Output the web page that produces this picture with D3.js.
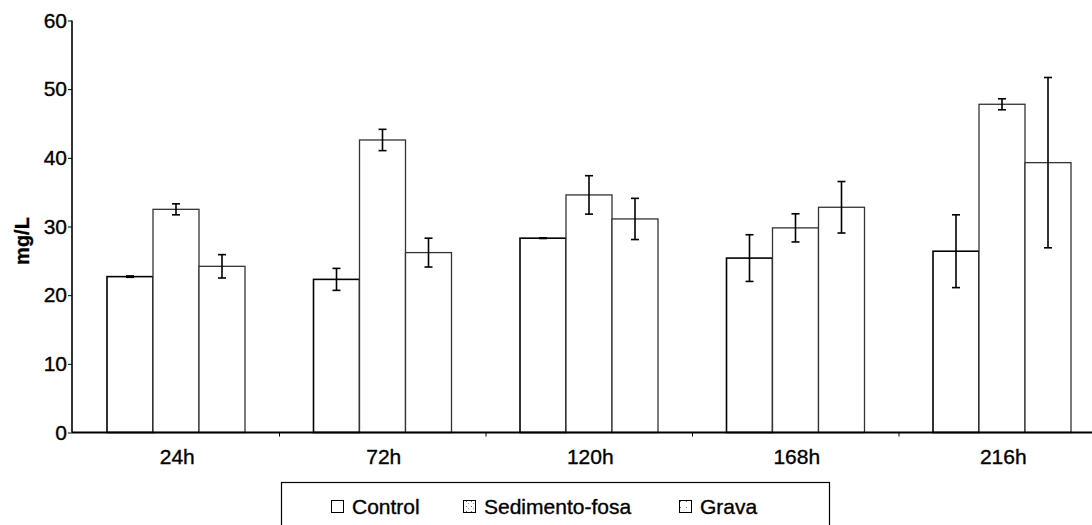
<!DOCTYPE html>
<html><head><meta charset="utf-8">
<script src="https://cdn.jsdelivr.net/npm/d3@7"></script>
<style>
html,body{margin:0;padding:0;background:#fff;}
svg{display:block;font-family:"Liberation Sans",Arial,sans-serif;}
svg text{stroke:#000;stroke-width:0.35px;}
</style></head>
<body><svg id="chart" width="1092" height="525"></svg>
<script>
const categories = ["24h","72h","120h","168h","216h"];
const seriesNames = ["Control","Sedimento-fosa","Grava"];
const controlMean = [22.7, 22.3, 28.3, 25.4, 26.4];
const controlErr  = [0.1, 1.6, 0.05, 3.4, 5.3];
const sedimentoMean = [32.5, 42.6, 34.6, 29.8, 47.8];
const sedimentoErr  = [0.8, 1.55, 2.8, 2.05, 0.8];
const gravaMean = [24.2, 26.2, 31.1, 32.8, 39.3];
const gravaErr  = [1.7, 2.1, 3.0, 3.75, 12.4];
const yTicks = [0,10,20,30,40,50,60];

const means = [controlMean, sedimentoMean, gravaMean];
const errs = [controlErr, sedimentoErr, gravaErr];

const svg = d3.select("#chart");
const defs = svg.append("defs");
const p1 = defs.append("pattern").attr("id","dotsA").attr("patternUnits","userSpaceOnUse").attr("width",5).attr("height",5);
p1.append("rect").attr("width",5).attr("height",5).attr("fill","#fff");
p1.append("rect").attr("x",1).attr("y",1).attr("width",1).attr("height",1).attr("fill","#666");
p1.append("rect").attr("x",3).attr("y",3).attr("width",1).attr("height",1).attr("fill","#999");
const p2 = defs.append("pattern").attr("id","dotsB").attr("patternUnits","userSpaceOnUse").attr("width",6).attr("height",6);
p2.append("rect").attr("width",6).attr("height",6).attr("fill","#fff");
p2.append("rect").attr("x",2).attr("y",3).attr("width",1).attr("height",1).attr("fill","#777");

const y = d3.scaleLinear().domain([0,60]).range([432.5,20.5]);
const x = d3.scaleBand().domain(categories).range([73,1105.5]).paddingInner(0).paddingOuter(0);
const xs = d3.scaleBand().domain(seriesNames).range([34, x.bandwidth()-34.5]).padding(0);

const g = svg.append("g");

const strokes = ["#000","#333","#333"];
const widths = [1.6,1.3,1.3];
seriesNames.forEach((s,si)=>{
  g.selectAll(".bar"+si).data(categories).enter().append("rect")
    .attr("x", c=> x(c)+xs(s))
    .attr("y", (c,i)=> y(means[si][i]))
    .attr("width", xs.bandwidth())
    .attr("height", (c,i)=> y(0)-y(means[si][i]))
    .attr("fill","#fff")
    .attr("stroke", strokes[si])
    .attr("stroke-width", widths[si]);
});

seriesNames.forEach((s,si)=>{
  categories.forEach((c,i)=>{
    const cx = x(c)+xs(s)+xs.bandwidth()/2;
    const top = y(means[si][i]+errs[si][i]);
    const bot = y(means[si][i]-errs[si][i]);
    const eg = g.append("g").attr("stroke","#000").attr("stroke-width",1.6);
    eg.append("line").attr("x1",cx).attr("x2",cx).attr("y1",top).attr("y2",bot);
    eg.append("line").attr("x1",cx-4).attr("x2",cx+4).attr("y1",top).attr("y2",top);
    eg.append("line").attr("x1",cx-4).attr("x2",cx+4).attr("y1",bot).attr("y2",bot);
  });
});

const yAxis = d3.axisLeft(y).tickValues(yTicks).tickSize(4).tickPadding(1).tickFormat(d3.format("d"));
const ya = svg.append("g").attr("transform","translate(72,0)").call(yAxis);
ya.select(".domain").attr("stroke","#000").attr("stroke-width",1.6).attr("d","M0,"+y(60)+"V"+y(0));
ya.selectAll(".tick line").attr("stroke","#000").attr("stroke-width",1);
ya.selectAll("text").attr("font-size","21px").attr("fill","#000").attr("font-family","'Liberation Sans',Arial,sans-serif");

const xa = svg.append("g").attr("transform","translate(0,"+y(0)+")");
xa.append("line").attr("x1",72).attr("x2",1105.5).attr("y1",0).attr("y2",0).attr("stroke","#000").attr("stroke-width",1.8);
xa.selectAll(".bt").data(categories.slice(1)).enter().append("line")
  .attr("x1",c=>x(c)).attr("x2",c=>x(c)).attr("y1",0).attr("y2",4).attr("stroke","#000").attr("stroke-width",1);
xa.selectAll(".lbl").data(categories).enter().append("text")
  .attr("x",c=>x(c)+x.bandwidth()/2+1)
  .attr("y",31)
  .attr("text-anchor","middle")
  .attr("font-size","21px")
  .attr("fill","#000")
  .text(c=>c);

svg.append("text")
  .attr("transform","translate(29,241) rotate(-90)")
  .attr("text-anchor","middle")
  .attr("font-size","20px")
  .attr("font-weight","bold")
  .attr("fill","#000")
  .text("mg/L");

const lg = svg.append("g");
lg.append("rect").attr("x",281.5).attr("y",482.5).attr("width",548).attr("height",60)
  .attr("fill","#fff").attr("stroke","#000").attr("stroke-width",1.2);
const legX = [331, 463, 679];
const fills = ["#fff","url(#dotsA)","url(#dotsB)"];
seriesNames.forEach((s,si)=>{
  lg.append("rect").attr("x",legX[si]+0.5).attr("y",500.5).attr("width",12).attr("height",12)
    .attr("fill",fills[si]).attr("stroke","#000").attr("stroke-width",1);
  lg.append("text").attr("x",legX[si]+21).attr("y",514).attr("font-size","21px").attr("fill","#000").text(s);
});
</script>
</body></html>
